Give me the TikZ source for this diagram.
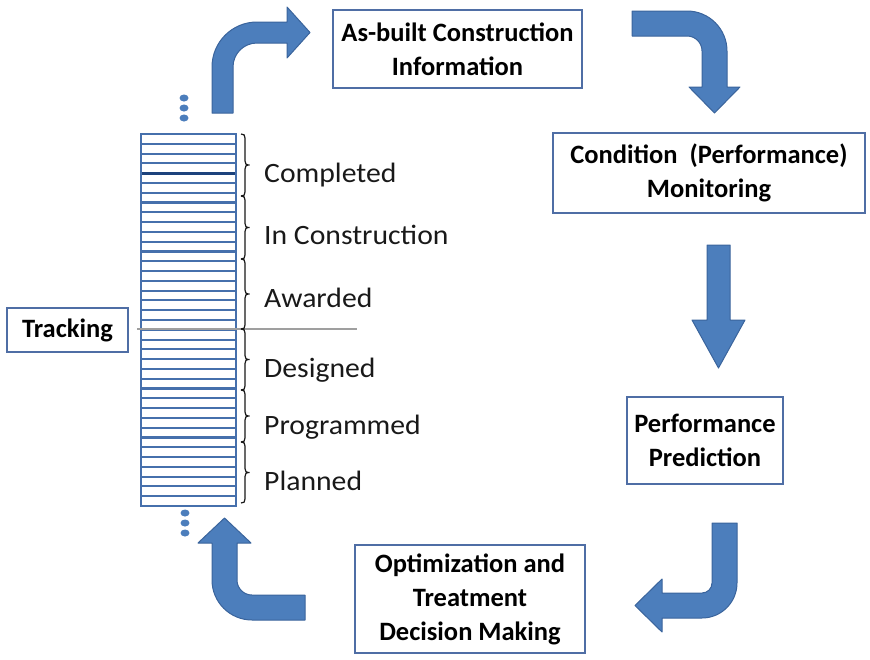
\documentclass[tikz,border=0pt]{standalone}
\usepackage{fontspec}
\setmainfont{Carlito}
\definecolor{arrowblue}{RGB}{76,126,188}
\definecolor{arrowedge}{RGB}{58,100,156}
\definecolor{boxedge}{RGB}{79,110,165}
\definecolor{stripe}{RGB}{70,112,172}
\definecolor{darkstripe}{RGB}{28,66,124}
\newcommand\StageBrace[2]{%
  \draw[stagebrace] (241,#1) .. controls (244,#1) and (245,{#1+1}) .. (245,{#1+4})
    -- (245,{(#1+#2)/2-4}) .. controls (245,{(#1+#2)/2-1}) and (246,{(#1+#2)/2}) .. (249.5,{(#1+#2)/2})
    .. controls (246,{(#1+#2)/2}) and (245,{(#1+#2)/2+1}) .. (245,{(#1+#2)/2+4})
    -- (245,{#2-4}) .. controls (245,{#2-1}) and (244,#2) .. (241,#2);}
\begin{document}
\begin{tikzpicture}[x=1pt,y=-1pt,
  bigarrow/.style={fill=arrowblue, draw=arrowedge, line width=1pt, line join=round},
  stepbox/.style={draw=boxedge, line width=1.6pt, fill=white, align=center, inner sep=0pt,
    font=\fontsize{26.5}{34}\selectfont\bfseries},
  stagelabel/.style={anchor=base west, inner sep=0pt,
    font=\fontsize{28}{32}\selectfont\addfontfeature{FakeStretch=1.06}, text=black!90},
  stagebrace/.style={line width=1.2pt, draw=black!90},
  bluedot/.style={fill=arrowblue, draw=none},
  stripeline/.style={draw=stripe, line width=2.1pt}]
\useasboundingbox (0,0) rectangle (870,659);

% boxes
\node[stepbox, minimum width=121pt, minimum height=44pt] (tracking) at (67.5,330) {Tracking};
\node[stepbox, minimum width=249pt, minimum height=78pt] (asbuilt) at (457.5,49) {As-built Construction\\Information};
\node[stepbox, minimum width=312pt, minimum height=80pt] (condition) at (709,173) {Condition\ \ (Performance)\\Monitoring};
\node[stepbox, minimum width=156pt, minimum height=87pt] (prediction) at (705,440.5) {Performance\\Prediction};
\node[stepbox, minimum width=230pt, minimum height=108pt] (optim) at (470,599) {Optimization and\\Treatment\\Decision Making};

% stack of stripes
\foreach \i in {1,...,37} {
  \draw[stripeline] (141,{134+\i*9.79}) -- (236,{134+\i*9.79});
}
\draw[darkstripe, line width=3pt] (141,173.2) -- (236,173.2);
\draw[stripeline, line width=2.2pt] (141,134) rectangle (236,506);

% separator line
\coordinate (sepL) at (137,329);
\coordinate (sepR) at (357,329);
\draw[gray!75, line width=1.2pt] (sepL) -- (sepR);

% braces
\StageBrace{134}{196}
\StageBrace{196}{259}
\StageBrace{259}{329}
\StageBrace{329}{390}
\StageBrace{390}{442}
\StageBrace{442}{503}

% labels
\node[stagelabel] (lcomp) at (264,182) {Completed};
\node[stagelabel] (lcons) at (264,244) {In Construction};
\node[stagelabel] (lawar) at (264,307) {Awarded};
\node[stagelabel] (ldesi) at (264,377) {Designed};
\node[stagelabel] (lprog) at (264,434) {Programmed};
\node[stagelabel] (lplan) at (264,490) {Planned};

% dots
\foreach \y in {98,108,118} { \fill[bluedot] (184,\y) ellipse [x radius=4.5, y radius=3.5]; }
\foreach \y in {513,523,533} { \fill[bluedot] (185,\y) ellipse [x radius=4.5, y radius=3.5]; }

% arrow 1: up then right
\draw[bigarrow] (212,113) -- (212,67) .. controls (212,42.1) and (232.1,22) .. (257,22)
  -- (287,22) -- (287,7) -- (310,32.5) -- (287,58) -- (287,43) -- (257,43)
  .. controls (243.7,43) and (233,53.7) .. (233,67) -- (233,113) -- cycle;

% arrow 2: right then down
\draw[bigarrow] (632,11) -- (687,11) .. controls (709.1,11) and (727,28.9) .. (727,51)
  -- (727,87) -- (740,87) -- (714.5,113) -- (689,87) -- (702,87) -- (702,51)
  .. controls (702,42.7) and (695.3,36) .. (687,36) -- (632,36) -- cycle;

% arrow 3: straight down
\draw[bigarrow] (707,245) -- (730,245) -- (730,320) -- (745,320) -- (718.5,368)
  -- (692,320) -- (707,320) -- cycle;

% arrow 4: down then left
\draw[bigarrow] (712,523) -- (737,523) -- (737,583) .. controls (737,602.3) and (721.3,618) .. (702,618)
  -- (662,618) -- (662,632) -- (635,605.5) -- (662,579) -- (662,593) -- (702,593)
  .. controls (707.5,593) and (712,588.5) .. (712,583) -- cycle;

% arrow 5: left then up
\draw[bigarrow] (305,595) -- (305,620) -- (252,620) .. controls (229.9,620) and (212,602.1) .. (212,580)
  -- (212,543) -- (198,543) -- (224.5,518) -- (251,543) -- (237,543) -- (237,580)
  .. controls (237,588.3) and (243.7,595) .. (252,595) -- cycle;
\end{tikzpicture}
\end{document}
